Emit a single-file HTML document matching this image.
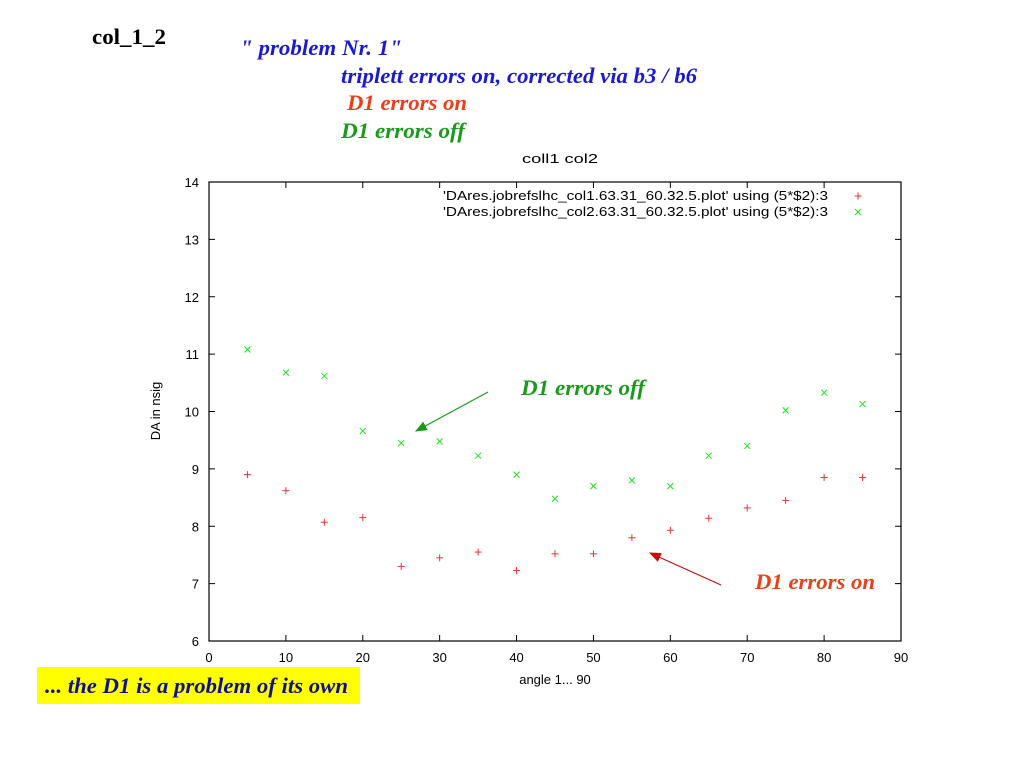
<!DOCTYPE html>
<html><head><meta charset="utf-8"><style>
body{margin:0;background:#fff;width:1024px;height:768px;overflow:hidden;position:relative;font-family:"Liberation Sans",sans-serif}
</style></head><body>
<div style="position:absolute;left:37px;top:667px;width:323px;height:37px;background:#ffff00"></div>
<svg id="n" width="1024" height="768" style="position:absolute;left:0;top:0" font-family="Liberation Serif, DejaVu Serif, serif" font-weight="bold" font-size="22">
<text x="92" y="44" textLength="74" lengthAdjust="spacingAndGlyphs" fill="#000">col_1_2</text>
<g font-style="italic">
<text x="240" y="55" textLength="162" lengthAdjust="spacingAndGlyphs" fill="#1a1ad0">" problem Nr. 1"</text>
<text x="341" y="83" textLength="356" lengthAdjust="spacingAndGlyphs" fill="#1a1ad0">triplett errors on, corrected via b3 / b6</text>
<text x="347" y="110" textLength="120" lengthAdjust="spacingAndGlyphs" fill="#e8401a">D1 errors on</text>
<text x="341" y="138" textLength="124" lengthAdjust="spacingAndGlyphs" fill="#1a9a1a">D1 errors off</text>
<text x="521" y="395" textLength="124" lengthAdjust="spacingAndGlyphs" fill="#1a9a1a">D1 errors off</text>
<text x="755" y="589" textLength="120" lengthAdjust="spacingAndGlyphs" fill="#e8401a">D1 errors on</text>
<text x="45" y="693" textLength="303" lengthAdjust="spacingAndGlyphs" fill="#10108a">... the D1 is a problem of its own</text>
</g>
</svg>
<svg id="c" width="1024" height="768" style="position:absolute;left:0;top:0"></svg>
<script>
const xTicks=[0,10,20,30,40,50,60,70,80,90];
const yTicks=[6,7,8,9,10,11,12,13,14];
const angles=[5,10,15,20,25,30,35,40,45,50,55,60,65,70,75,80,85];
const col1=[8.9,8.62,8.07,8.15,7.3,7.45,7.55,7.23,7.52,7.52,7.8,7.93,8.14,8.32,8.45,8.85,8.85];
const col2=[11.08,10.68,10.62,9.66,9.45,9.48,9.23,8.9,8.48,8.7,8.8,8.7,9.23,9.4,10.02,10.33,10.13];
const L=209,R=901,T=182,B=641;
const sx=v=>L+(v-0)/90*(R-L), sy=v=>B-(v-6)/8*(B-T);
const s=document.getElementById('c');const NS='http://www.w3.org/2000/svg';
function el(t,a,p){const e=document.createElementNS(NS,t);for(const k in a)e.setAttribute(k,a[k]);(p||s).appendChild(e);return e;}
function txt(x,y,str,anchor,extra){const e=el('text',Object.assign({x:x,y:y,'font-family':'Liberation Sans, sans-serif','font-size':13,'text-anchor':anchor||'middle',fill:'#000'},extra||{}));e.textContent=str;return e;}
const frame=el('rect',{x:L,y:T,width:R-L,height:B-T,fill:'none',stroke:'#000','stroke-width':1.2});


xTicks.forEach(v=>{const x=sx(v);el('line',{x1:x,y1:B,x2:x,y2:B-6,stroke:'#000'});el('line',{x1:x,y1:T,x2:x,y2:T+6,stroke:'#000'});
const t=txt(x,B+21,String(v));});
yTicks.forEach(v=>{const y=sy(v);el('line',{x1:L,y1:y,x2:L+6,y2:y,stroke:'#000'});el('line',{x1:R,y1:y,x2:R-6,y2:y,stroke:'#000'});
const t=txt(L-10,y+5,String(v),'end');});
const ct=txt(522,163,'coll1 col2','start',{textLength:76,lengthAdjust:'spacingAndGlyphs'});
const xt=txt(555,684,'angle 1... 90');
const yt=txt(0,0,'DA in nsig','middle',{transform:'translate(160,411) rotate(-90)'});
function plus(x,y){const g=el('g',{stroke:'#f03030','stroke-width':1});el('line',{x1:x-3.5,y1:y,x2:x+3.5,y2:y},g);el('line',{x1:x,y1:y-3.5,x2:x,y2:y+3.5},g);return g;}
function cross(x,y){const g=el('g',{stroke:'#20e020','stroke-width':1});el('line',{x1:x-3,y1:y-3,x2:x+3,y2:y+3},g);el('line',{x1:x-3,y1:y+3,x2:x+3,y2:y-3},g);return g;}
angles.forEach((a,i)=>{const p=plus(sx(a),sy(col1[i]));
const c=cross(sx(a),sy(col2[i]));});
const l1=txt(443,200,"'DAres.jobrefslhc_col1.63.31_60.32.5.plot' using (5*$2):3",'start',{textLength:385,lengthAdjust:'spacingAndGlyphs'});
const l2=txt(443,216,"'DAres.jobrefslhc_col2.63.31_60.32.5.plot' using (5*$2):3",'start',{textLength:385,lengthAdjust:'spacingAndGlyphs'});
plus(858,196);cross(858,212);
el('defs',{}).innerHTML='<marker id="ag" markerWidth="10" markerHeight="8" refX="9" refY="4" orient="auto"><path d="M0,0L10,4L0,8z" fill="#1a9a1a"/></marker><marker id="ar" markerWidth="10" markerHeight="8" refX="9" refY="4" orient="auto"><path d="M0,0L10,4L0,8z" fill="#c01010"/></marker>';
const a1=el('line',{x1:488,y1:392,x2:416,y2:431,stroke:'#1a9a1a','stroke-width':1.2,'marker-end':'url(#ag)'});
const a2=el('line',{x1:721,y1:585,x2:650,y2:553,stroke:'#c01010','stroke-width':1.2,'marker-end':'url(#ar)'});
</script>
</body></html>
